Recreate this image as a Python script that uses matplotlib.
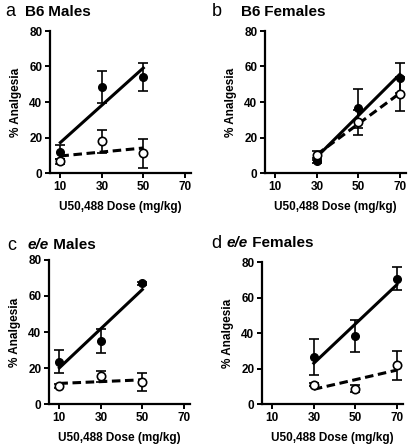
import matplotlib.pyplot as plt
import numpy as np

plt.rcParams['font.family'] = ['Liberation Sans', 'DejaVu Sans']

# doses per panel
dose_a = [10, 30, 50]
dose_b = [30, 50, 70]
dose_c = [10, 30, 50]
dose_d = [30, 50, 70]

# filled = one group, open = other group (means and SEM)
filled_a = [12, 48.5, 54]
filled_a_err = [4, 9, 8]
open_a = [6.5, 18, 11]
open_a_err = [1.5, 6.5, 8]

filled_b = [7, 36.5, 53.5]
filled_b_err = [1.5, 11, 8.5]
open_b = [10, 28.5, 44.5]
open_b_err = [2.5, 7, 9.5]

filled_c = [23.5, 35, 67]
filled_c_err = [6.3, 6.6, 1]
open_c = [10, 15.3, 12]
open_c_err = [1, 3, 5]

filled_d = [26.4, 38.2, 70.6]
filled_d_err = [10, 9, 6.6]
open_d = [10.9, 8.5, 21.7]
open_d_err = [1, 2, 8]

panels = [
    ('a', 'B6', ' Males', dose_a, filled_a, filled_a_err, open_a, open_a_err),
    ('b', 'B6', ' Females', dose_b, filled_b, filled_b_err, open_b, open_b_err),
    ('c', 'e/e', ' Males', dose_c, filled_c, filled_c_err, open_c, open_c_err),
    ('d', 'e/e', ' Females', dose_d, filled_d, filled_d_err, open_d, open_d_err),
]

W, H = 410, 444
fig = plt.figure(figsize=(W / 100, H / 100), dpi=100)

# axes boxes in pixels: left, top(80), bottom(0)
boxes = [(50, 31, 173), (265, 31, 173), (49, 260, 404), (262, 262, 404)]
# title positions (letter x, title x, y)
titles = [(5, 25, 12), (212, 241, 12), (7, 28, 245), (211, 227, 243)]

for i, p in enumerate(panels):
    letter, geno, sex, x, yf, ef, yo, eo = p
    left, top, bot = boxes[i]
    ax = fig.add_axes([left / W, 1 - bot / H, 141 / W, (bot - top) / H])
    x = np.array(x)

    # linear fits through the means
    kf = np.polyfit(x, yf, 1)
    ko = np.polyfit(x, yo, 1)
    ax.plot(x[[0, -1]], np.polyval(kf, x[[0, -1]]), color='black', lw=2.2, zorder=2)
    ax.plot(x[[0, -1]], np.polyval(ko, x[[0, -1]]), color='black', lw=2.2,
            dashes=(2.8, 1.5), zorder=2)

    ax.errorbar(x, yf, yerr=ef, fmt='o', color='black', ms=5.5, capsize=3.5,
                elinewidth=1.2, capthick=1.2, zorder=3)
    ax.errorbar(x, yo, yerr=eo, fmt='o', color='black', mfc='white', mec='black',
                mew=1.2, ms=6, capsize=3.5, elinewidth=1.2, capthick=1.2, zorder=4)

    ax.set_xlim(5, 73)
    ax.set_ylim(0, 80)
    ax.set_xticks([10, 30, 50, 70])
    ax.set_yticks([0, 20, 40, 60, 80])
    for s in ['top', 'right']:
        ax.spines[s].set_visible(False)
    for s in ['left', 'bottom']:
        ax.spines[s].set_linewidth(1.6)
    ax.tick_params(width=1.4, length=3.5, labelsize=8.5, pad=2)
    for lab in ax.get_xticklabels() + ax.get_yticklabels():
        lab.set_fontweight('bold')
    ax.set_xlabel('U50,488 Dose (mg/kg)', fontsize=8.5, fontweight='bold', labelpad=6)
    ax.set_ylabel('% Analgesia', fontsize=8.5, fontweight='bold', labelpad=5)

    lx, tx, ty = titles[i]
    fig.text(lx / W, 1 - ty / H, letter, fontsize=13, va='center', ha='left')
    t = fig.text(tx / W, 1 - ty / H, geno, fontsize=11, fontweight='bold',
                 va='center', ha='left',
                 style='italic' if geno == 'e/e' else 'normal')
    fig.canvas.draw()
    bb = t.get_window_extent()
    fig.text(bb.x1 / W, 1 - ty / H, sex, fontsize=11, fontweight='bold',
             va='center', ha='left')

fig.savefig('out.png', dpi=100)
